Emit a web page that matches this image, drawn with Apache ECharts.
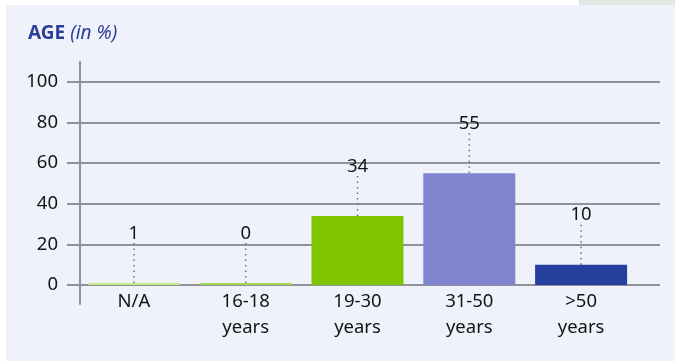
<!DOCTYPE html>
<html>
<head>
<meta charset="utf-8">
<script src="https://cdn.jsdelivr.net/npm/echarts@6/dist/echarts.min.js"></script>
<style>
  html, body { margin: 0; padding: 0; background: #ffffff; }
  #chart { width: 675px; height: 361px; }
</style>
</head>
<body>
<div id="chart"></div>
<script>
// Age distribution of respondents, in percent
const categories = ['N/A', '16-18\nyears', '19-30\nyears', '31-50\nyears', '>50\nyears'];
const shares = [1, 0, 34, 55, 10];
const barColors = ['#c6e98c', '#a3d957', '#80c400', '#8085cf', '#24409c'];
const yTicks = [0, 20, 40, 60, 80, 100];

const FONT = "'Noto Sans', 'Open Sans', sans-serif";
const GRID_COLOR = '#8f9297';
const TEXT_COLOR = '#141414';
const FONT_SIZE = 18.5;

const chart = echarts.init(document.getElementById('chart'), null, { renderer: 'canvas' });

chart.setOption({
  backgroundColor: '#ffffff',
  animation: false,
  graphic: [
    { type: 'rect', z: -10, shape: { x: 6, y: 5, width: 669, height: 356 }, style: { fill: '#eff2fa' } },
    { type: 'rect', z: -10, shape: { x: 579, y: 0, width: 96, height: 5 }, style: { fill: '#e3e8e4' } }
  ],
  title: {
    left: 23,
    top: 19,
    text: '{b|AGE} {i|(in %)}',
    textStyle: {
      fontWeight: 'normal',
      rich: {
        b: { fontFamily: FONT, fontSize: 19, fontWeight: 'bold', color: '#2a3e9a' },
        i: { fontFamily: FONT, fontSize: 19, fontWeight: 'normal', fontStyle: 'italic', color: '#2a3e9a' }
      }
    }
  },
  grid: [
    // value scale with gridlines
    { left: 80, right: 15, top: 82, bottom: 76 },
    // bars and category labels
    { left: 78, width: 559, top: 82, bottom: 76 },
    // vertical axis line, running past the plot
    { left: 80, right: 15, top: 62, bottom: 57 }
  ],
  xAxis: [
    { gridIndex: 0, type: 'category', data: categories, show: false },
    {
      gridIndex: 1,
      type: 'category',
      data: categories,
      axisLine: { show: false },
      axisTick: { show: false },
      axisLabel: {
        margin: 4,
        fontFamily: FONT,
        fontSize: FONT_SIZE,
        lineHeight: 26,
        color: TEXT_COLOR,
        interval: 0
      }
    },
    { gridIndex: 2, type: 'category', data: categories, show: false }
  ],
  yAxis: [
    {
      gridIndex: 0,
      type: 'value',
      min: 0,
      max: 100,
      interval: 20,
      axisLine: { show: false },
      axisTick: { show: true, inside: false, length: 13, lineStyle: { color: GRID_COLOR, width: 2 } },
      splitLine: { show: true, lineStyle: { color: GRID_COLOR, width: 2 } },
      axisLabel: {
        margin: 22,
        fontFamily: FONT,
        fontSize: FONT_SIZE,
        color: TEXT_COLOR,
        formatter: v => (yTicks.indexOf(v) >= 0 ? String(v) : '')
      }
    },
    {
      gridIndex: 1,
      type: 'value',
      min: 0,
      max: 100,
      show: false
    },
    {
      gridIndex: 2,
      type: 'value',
      min: 0,
      max: 100,
      axisLine: { show: true, lineStyle: { color: GRID_COLOR, width: 2 } },
      axisTick: { show: false },
      axisLabel: { show: false },
      splitLine: { show: false }
    }
  ],
  series: [
    {
      type: 'bar',
      xAxisIndex: 1,
      yAxisIndex: 1,
      barWidth: 92,
      barMinHeight: 2,
      z: 5,
      data: shares.map((v, i) => ({ value: v, itemStyle: { color: barColors[i] } })),
      label: {
        show: true,
        position: 'top',
        distance: 2,
        fontFamily: FONT,
        fontSize: FONT_SIZE,
        color: TEXT_COLOR
      },
      labelLayout: { dy: -38 },
      labelLine: {
        show: true,
        lineStyle: { color: '#6f7277', width: 1.5, type: [1.5, 4] }
      }
    }
  ]
});
</script>
</body>
</html>
